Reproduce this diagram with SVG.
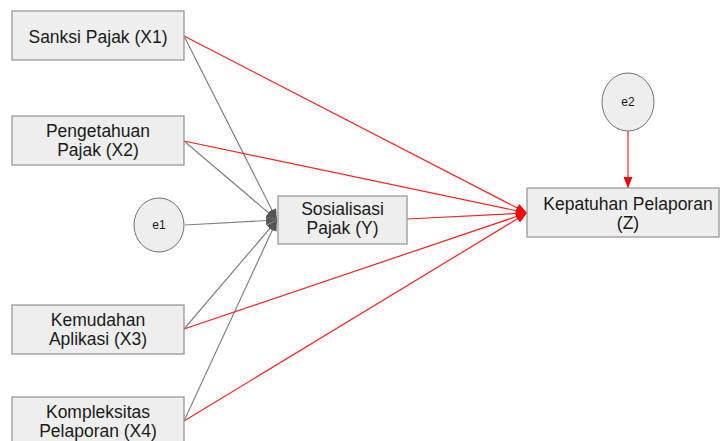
<svg xmlns="http://www.w3.org/2000/svg" width="720" height="441" viewBox="0 0 720 441">
<style>
.box{fill:#eeeeee;stroke:#999999;stroke-width:1.3}
.ell{fill:#eeeeee;stroke:#707070;stroke-width:1}
.t{font-family:"Liberation Sans",Arial,sans-serif;font-size:17.5px;fill:#1a1a1a;text-anchor:middle}
.s{font-family:"Liberation Sans",Arial,sans-serif;font-size:12px;fill:#1a1a1a;text-anchor:middle}
.g{stroke:#808080;stroke-width:1.2;fill:none;marker-end:url(#ag)}
.r{stroke:#ff2020;stroke-width:1.2;fill:none;marker-end:url(#ar)}
</style>
<defs>
<marker id="ag" markerUnits="userSpaceOnUse" markerWidth="11" markerHeight="9" refX="11" refY="4.5" orient="auto"><path d="M0,0 L11,4.5 L0,9 z" fill="#555555"/></marker>
<marker id="ar" markerUnits="userSpaceOnUse" markerWidth="11" markerHeight="9" refX="11" refY="4.5" orient="auto"><path d="M0,0 L11,4.5 L0,9 z" fill="#ff0000"/></marker>
</defs>
<rect width="720" height="441" fill="#ffffff"/>
<g id="connectors">
<line class="g" x1="184" y1="36" x2="277" y2="220"/>
<line class="g" x1="184" y1="141" x2="277" y2="220"/>
<line class="g" x1="185" y1="225" x2="277" y2="220"/>
<line class="g" x1="184" y1="329" x2="277" y2="220"/>
<line class="g" x1="184" y1="421" x2="277" y2="220"/>
<line class="r" x1="184" y1="36" x2="527" y2="213"/>
<line class="r" x1="184" y1="141" x2="527" y2="213"/>
<line class="r" x1="407" y1="219" x2="527" y2="213"/>
<line class="r" x1="184" y1="329" x2="527" y2="213"/>
<line class="r" x1="184" y1="421" x2="527" y2="213"/>
<line class="r" x1="628" y1="131" x2="628" y2="188"/>
</g>
<g id="x1"><rect class="box" x="12" y="11" width="172" height="49"/><text class="t" x="98" y="42.5">Sanksi Pajak (X1)</text></g>
<g id="x2"><rect class="box" x="12" y="116" width="172" height="49"/><text class="t" x="98" y="137">Pengetahuan</text><text class="t" x="98" y="156">Pajak (X2)</text></g>
<g id="x3"><rect class="box" x="12" y="305" width="172" height="49"/><text class="t" x="98" y="326">Kemudahan</text><text class="t" x="98" y="345">Aplikasi (X3)</text></g>
<g id="x4"><rect class="box" x="12" y="397" width="172" height="49"/><text class="t" x="98" y="418">Kompleksitas</text><text class="t" x="98" y="437">Pelaporan (X4)</text></g>
<g id="e1"><ellipse class="ell" cx="159" cy="225" rx="25" ry="27"/><text class="s" x="159" y="229">e1</text></g>
<g id="y"><rect class="box" x="278" y="196" width="129" height="48"/><text class="t" x="342.5" y="214.5">Sosialisasi</text><text class="t" x="342.5" y="233.5">Pajak (Y)</text></g>
<g id="e2"><ellipse class="ell" cx="628" cy="102" rx="26" ry="29"/><text class="s" x="628" y="106">e2</text></g>
<g id="z"><rect class="box" x="527" y="188" width="192" height="49"/><text class="t" x="628" y="209.5">Kepatuhan Pelaporan</text><text class="t" x="628" y="228.5">(Z)</text></g>
</svg>
